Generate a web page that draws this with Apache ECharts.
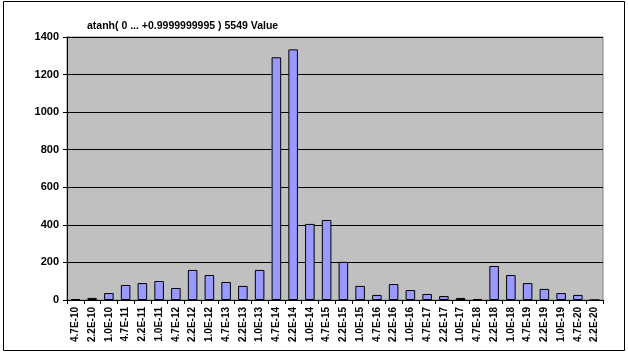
<!DOCTYPE html>
<html>
<head>
<meta charset="utf-8">
<script src="https://cdn.jsdelivr.net/npm/echarts@6/dist/echarts.min.js"></script>
<style>
  html, body { margin: 0; padding: 0; background: #fff; }
  #chart { width: 628px; height: 354px; }
</style>
</head>
<body>
<div id="chart"></div>
<script>
var TITLE = 'atanh( 0 ... +0.9999999995 ) 5549 Value'
var categories = [
  '4.7E-10', '2.2E-10', '1.0E-10', '4.7E-11', '2.2E-11', '1.0E-11', '4.7E-12', '2.2E-12',
  '1.0E-12', '4.7E-13', '2.2E-13', '1.0E-13', '4.7E-14', '2.2E-14', '1.0E-14', '4.7E-15',
  '2.2E-15', '1.0E-15', '4.7E-16', '2.2E-16', '1.0E-16', '4.7E-17', '2.2E-17', '1.0E-17',
  '4.7E-18', '2.2E-18', '1.0E-18', '4.7E-19', '2.2E-19', '1.0E-19', '4.7E-20', '2.2E-20'
]
var values = [
  5, 11, 37, 80, 90, 101, 64, 160,
  133, 96, 75, 160, 1292, 1334, 405, 426,
  203, 75, 27, 85, 53, 32, 21, 11,
  5, 181, 133, 90, 59, 37, 27, 0
]
var yTicks = { min: 0, max: 1400, interval: 200 }

var FONT = 'Liberation Sans, Arial, sans-serif'

var chart = echarts.init(document.getElementById('chart'))
chart.setOption({
  backgroundColor: '#fff',
  animation: false,
  title: {
    text: TITLE,
    left: 82,
    top: 16,
    textStyle: { fontFamily: FONT, fontSize: 10.5, fontWeight: 'bold', color: '#000' }
  },
  graphic: [
    {
      type: 'rect',
      shape: { x: 3.5, y: 1.5, width: 621, height: 349 },
      style: { fill: 'none', stroke: '#000', lineWidth: 1 },
      silent: true
    }
  ],
  grid: {
    left: 67,
    right: 25,
    top: 37,
    bottom: 54,
    show: true,
    backgroundColor: '#C0C0C0',
    borderColor: '#808080',
    borderWidth: 1
  },
  xAxis: {
    type: 'category',
    data: categories,
    boundaryGap: true,
    axisLine: { lineStyle: { color: '#000', width: 1 } },
    axisTick: { show: true, alignWithLabel: false, interval: 0, length: 4, lineStyle: { color: '#000' } },
    axisLabel: {
      interval: 0,
      rotate: 90,
      margin: 7,
      fontFamily: FONT,
      fontSize: 10,
      fontWeight: 'bold',
      color: '#000'
    },
    splitLine: { show: false }
  },
  yAxis: {
    type: 'value',
    min: yTicks.min,
    max: yTicks.max,
    interval: yTicks.interval,
    axisLine: { show: true, lineStyle: { color: '#000', width: 1 } },
    axisTick: { show: true, length: 4, lineStyle: { color: '#000' } },
    axisLabel: {
      margin: 8,
      fontFamily: FONT,
      fontSize: 11,
      fontWeight: 'bold',
      color: '#000',
      formatter: function (v) { return String(v) }
    },
    splitLine: { show: true, lineStyle: { color: '#000', width: 1 } }
  },
  series: [
    {
      type: 'bar',
      data: values,
      barCategoryGap: '43%',
      itemStyle: { color: '#9999FF', borderColor: '#000', borderWidth: 1 }
    }
  ]
})
</script>
</body>
</html>
